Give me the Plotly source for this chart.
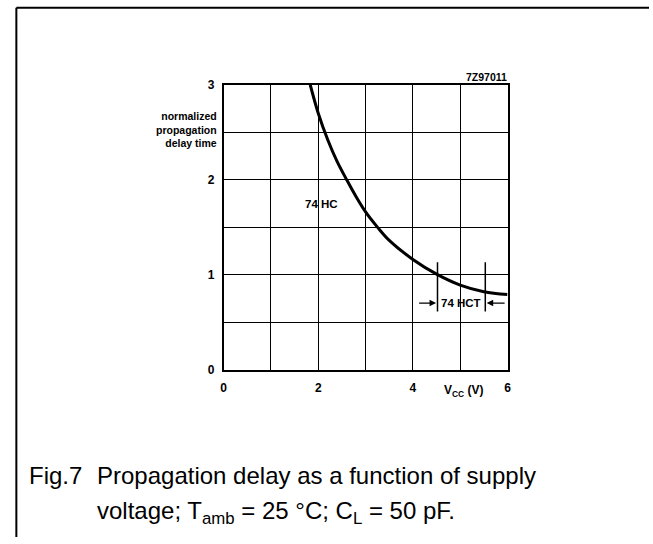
import plotly.graph_objects as go

# Curve data (74HC normalized propagation delay vs VCC)
vcc = [1.83, 2.0, 2.2, 2.4, 2.6, 2.8, 3.0, 3.25, 3.5, 4.0, 4.52, 5.0, 5.5, 6.0]
delay = [3.0, 2.70, 2.42, 2.19, 2.0, 1.82, 1.66, 1.5, 1.36, 1.16, 1.0, 0.89, 0.82, 0.79]

x_ticks = [0, 2, 4, 6]
y_ticks = [0, 1, 2, 3]

hct_range = [4.52, 5.53]
hct_bar_y = [0.61, 1.13]
hct_label_y = 0.70

W, H = 653, 544
FAM = "Liberation Sans, Arial, sans-serif"


def cy(py):
    # compensate the small vertical squeeze observed in the rendered page
    return (py - 6.2) / 0.975


px0, px1 = 223, 510
py_top, py_bot = cy(84), cy(369)

fig = go.Figure()
fig.add_trace(go.Scatter(x=vcc, y=delay, mode="lines",
                         line=dict(color="black", width=3, shape="spline", smoothing=1.0),
                         showlegend=False, hoverinfo="skip"))
for xv in hct_range:
    fig.add_trace(go.Scatter(x=[xv, xv], y=hct_bar_y, mode="lines",
                             line=dict(color="black", width=1.5),
                             showlegend=False, hoverinfo="skip"))

tickf = dict(family=FAM, size=12, color="black", weight="bold")

fig.update_layout(
    width=W, height=H,
    margin=dict(l=0, r=0, t=0, b=0),
    paper_bgcolor="white", plot_bgcolor="white",
    xaxis=dict(domain=[px0 / W, px1 / W], range=[0, 6], tickmode="array",
               tickvals=x_ticks, showgrid=True,
               gridcolor="black", gridwidth=1.3, showline=True, linecolor="black",
               linewidth=1.5, mirror=True, zeroline=False, ticks="",
               ticklabelstandoff=6,
               minor=dict(dtick=1, showgrid=True, gridcolor="black", gridwidth=1.3),
               tickfont=tickf, fixedrange=True),
    yaxis=dict(domain=[1 - py_bot / H, 1 - py_top / H], range=[0, 3], tickmode="array",
               tickvals=y_ticks, showgrid=True,
               gridcolor="black", gridwidth=1.3, showline=True, linecolor="black",
               linewidth=1.5, mirror=True, zeroline=False, ticks="",
               ticklabelstandoff=5,
               minor=dict(dtick=0.5, showgrid=True, gridcolor="black", gridwidth=1.3),
               tickfont=tickf, fixedrange=True),
)


def P(x, y):
    return x / W, 1 - cy(y) / H


anns = []
ax, ay = P(465, 390)
anns.append(dict(x=ax, y=ay, xref="paper", yref="paper", xanchor="center", yanchor="middle",
                 text="V<sub>CC</sub> (V)",
                 showarrow=False, font=dict(family=FAM, size=12, color="black", weight="bold")))
ax, ay = P(218, 129)
anns.append(dict(x=ax, y=ay, xref="paper", yref="paper", xanchor="right", yanchor="middle",
                 text="normalized<br>propagation<br>delay time", align="right",
                 showarrow=False, font=dict(family=FAM, size=10.5, color="black", weight="bold")))
ax, ay = P(511, 76)
anns.append(dict(x=ax, y=ay, xref="paper", yref="paper", xanchor="right", yanchor="middle",
                 text="7Z97011", showarrow=False,
                 font=dict(family=FAM, size=10.5, color="black", weight="bold")))
anns.append(dict(x=2.06, y=1.74, xref="x", yref="y", xanchor="center", yanchor="middle",
                 text="74 HC", showarrow=False,
                 font=dict(family=FAM, size=11.5, color="black", weight="bold")))
anns.append(dict(x=(hct_range[0] + hct_range[1]) / 2, y=hct_label_y, xref="x", yref="y",
                 xanchor="center", yanchor="middle",
                 text="74 HCT", showarrow=False,
                 font=dict(family=FAM, size=11.5, color="black", weight="bold")))
anns.append(dict(x=hct_range[0] - 0.03, y=hct_label_y, ax=hct_range[0] - 0.42, ay=hct_label_y,
                 xref="x", yref="y", axref="x", ayref="y", text="", showarrow=True,
                 arrowhead=2, arrowsize=1, arrowwidth=1.3, arrowcolor="black"))
anns.append(dict(x=hct_range[1] + 0.03, y=hct_label_y, ax=hct_range[1] + 0.44, ay=hct_label_y,
                 xref="x", yref="y", axref="x", ayref="y", text="", showarrow=True,
                 arrowhead=2, arrowsize=1, arrowwidth=1.3, arrowcolor="black"))
cf = dict(family=FAM, size=24, color="black")
ax, ay = P(24, 475)
anns.append(dict(x=ax, y=ay, xref="paper", yref="paper", xanchor="left", yanchor="middle",
                 text="Fig.7", showarrow=False, font=cf))
ax, ay = P(93, 475)
anns.append(dict(x=ax, y=ay, xref="paper", yref="paper", xanchor="left", yanchor="middle",
                 text="Propagation delay as a function of supply", showarrow=False, font=cf))
ax, ay = P(93, 512)
anns.append(dict(x=ax, y=ay, xref="paper", yref="paper", xanchor="left", yanchor="middle",
                 text="voltage; T<sub>amb</sub> = 25 °C; C<sub>L</sub> = 50 pF.", showarrow=False, font=cf))
fig.update_layout(annotations=anns)

top_y = 1 - cy(7) / H
fig.add_shape(type="line", xref="paper", yref="paper", x0=13.5 / W, x1=13.5 / W, y0=0, y1=top_y,
              line=dict(color="black", width=2))
fig.add_shape(type="line", xref="paper", yref="paper", x0=13.5 / W, x1=1, y0=top_y, y1=top_y,
              line=dict(color="black", width=2))

post = ("var gd=document.getElementById('{plot_id}');"
        "document.body.style.margin='0';"
        "gd.style.position='absolute';gd.style.left='0px';gd.style.top='0px';")
fig.write_html("out.html", config=dict(displayModeBar=False), post_script=post)
